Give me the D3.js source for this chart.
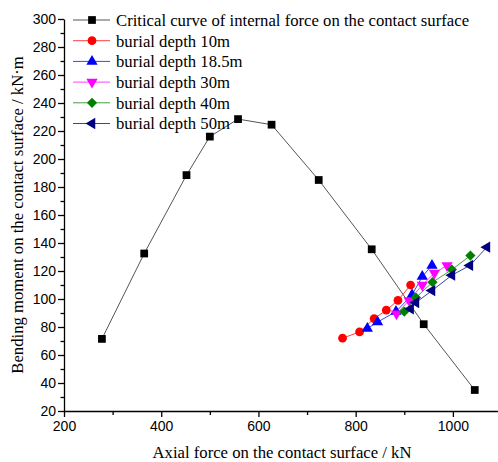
<!DOCTYPE html>
<html><head><meta charset="utf-8">
<script src="https://cdn.jsdelivr.net/npm/d3@7"></script>
<style>body{margin:0;background:#fff}svg{display:block}</style>
</head><body>
<svg id="c" width="498" height="462"></svg>
<script>
const xTicks=[200,400,600,800,1000];
const yTicks=[20,40,60,80,100,120,140,160,180,200,220,240,260,280,300];
const seriesNames=["Critical curve of internal force on the contact surface","burial depth 10m","burial depth 18.5m","burial depth 30m","burial depth 40m","burial depth 50m"];
const critX=[278,365,452,500,558,627,724,833,940,1045];
const critY=[71.5,132.5,188.5,216,228.5,224.5,185,135.5,82,35];
const d10X=[773,808,838,863,887,913];
const d10Y=[72,76.5,86,92,99,110];
const d185X=[824,845,883,916,937,957];
const d185Y=[79,83.5,91,103,116,124];
const d30X=[884,910,937,962,988];
const d30Y=[89.5,99,110,118.5,124];
const d40X=[900,924,958,998,1036];
const d40Y=[91,101,112,121,131];
const d50X=[913,924,957,998,1035,1070];
const d50Y=[93,97.5,106,117,124,137];

const colors=["#000000","#ff0000","#0000ff","#ff00ff","#008000","#000080"];
const lineColors=["#555555","#ff4040","#4040ff","#ff40ff","#40a040","#4040a0"];
const sym=[d3.symbolSquare,d3.symbolCircle,d3.symbolTriangle,d3.symbolTriangle,d3.symbolSquare,d3.symbolTriangle];
const rot=[0,0,0,180,45,-90];
const sizes=[60,60,55,55,52,55];
const data=[[critX,critY],[d10X,d10Y],[d185X,d185Y],[d30X,d30Y],[d40X,d40Y],[d50X,d50Y]];

const svg=d3.select("#c");
const x=d3.scaleLinear().domain([200,1100]).range([64,501.5]);
const y=d3.scaleLinear().domain([20,300]).range([411,19]);

// axes
const xAxis=d3.axisBottom(x).tickValues(d3.range(200,1101,100)).tickSizeOuter(0)
  .tickFormat(d=>xTicks.includes(d)?d:"");
const gx=svg.append("g").attr("transform","translate(0,411)").call(xAxis);
gx.selectAll(".tick line").attr("y2",d=>xTicks.includes(d)?6:4);
const yAxis=d3.axisLeft(y).tickValues(d3.range(20,301,10)).tickSizeOuter(0)
  .tickFormat(d=>yTicks.includes(d)?d:"");
const gy=svg.append("g").attr("transform","translate(64,0)").call(yAxis);
gy.selectAll(".tick line").attr("x2",d=>yTicks.includes(d)?-6:-3.5);
[gx,gy].forEach(g=>{
  g.selectAll("path,line").attr("stroke","#000").attr("stroke-width",1.3);
  g.selectAll("text").attr("font-family","Liberation Sans, Arial, sans-serif").attr("font-size","14px").attr("fill","#000");
});
gx.selectAll("text").attr("dy","0.71em").attr("y",10);
gy.selectAll("text").attr("x",-8);

// titles
svg.append("text").attr("x",282).attr("y",458).attr("text-anchor","middle")
  .attr("font-family","Liberation Serif, Times New Roman, serif").attr("font-size","16.7px")
  .text("Axial force on the contact surface / kN");
svg.append("text").attr("transform","translate(23,215) rotate(-90)").attr("text-anchor","middle")
  .attr("font-family","Liberation Serif, Times New Roman, serif").attr("font-size","16.7px")
  .text("Bending moment on the contact surface / kN·m");

// series
const line=d3.line().x(d=>x(d[0])).y(d=>y(d[1]));
data.forEach((s,i)=>{
  const pts=s[0].map((v,j)=>[v,s[1][j]]);
  svg.append("path").datum(pts).attr("d",line).attr("fill","none")
    .attr("stroke",lineColors[i]).attr("stroke-width",1);
  svg.append("g").selectAll("path").data(pts).join("path")
    .attr("d",d3.symbol().type(sym[i]).size(sizes[i]))
    .attr("transform",d=>`translate(${x(d[0])},${y(d[1])}) rotate(${rot[i]})`)
    .attr("fill",colors[i]);
});

// legend
const leg=svg.append("g");
seriesNames.forEach((n,i)=>{
  const yy=20+i*20.7;
  leg.append("line").attr("x1",73).attr("x2",110).attr("y1",yy).attr("y2",yy)
    .attr("stroke",lineColors[i]).attr("stroke-width",1);
  leg.append("path").attr("d",d3.symbol().type(sym[i]).size(sizes[i]))
    .attr("transform",`translate(92,${yy}) rotate(${rot[i]})`).attr("fill",colors[i]);
  leg.append("text").attr("x",116).attr("y",yy).attr("dy","0.35em")
    .attr("font-family","Liberation Serif, Times New Roman, serif").attr("font-size","16.7px")
    .text(n);
});
</script>
</body></html>
